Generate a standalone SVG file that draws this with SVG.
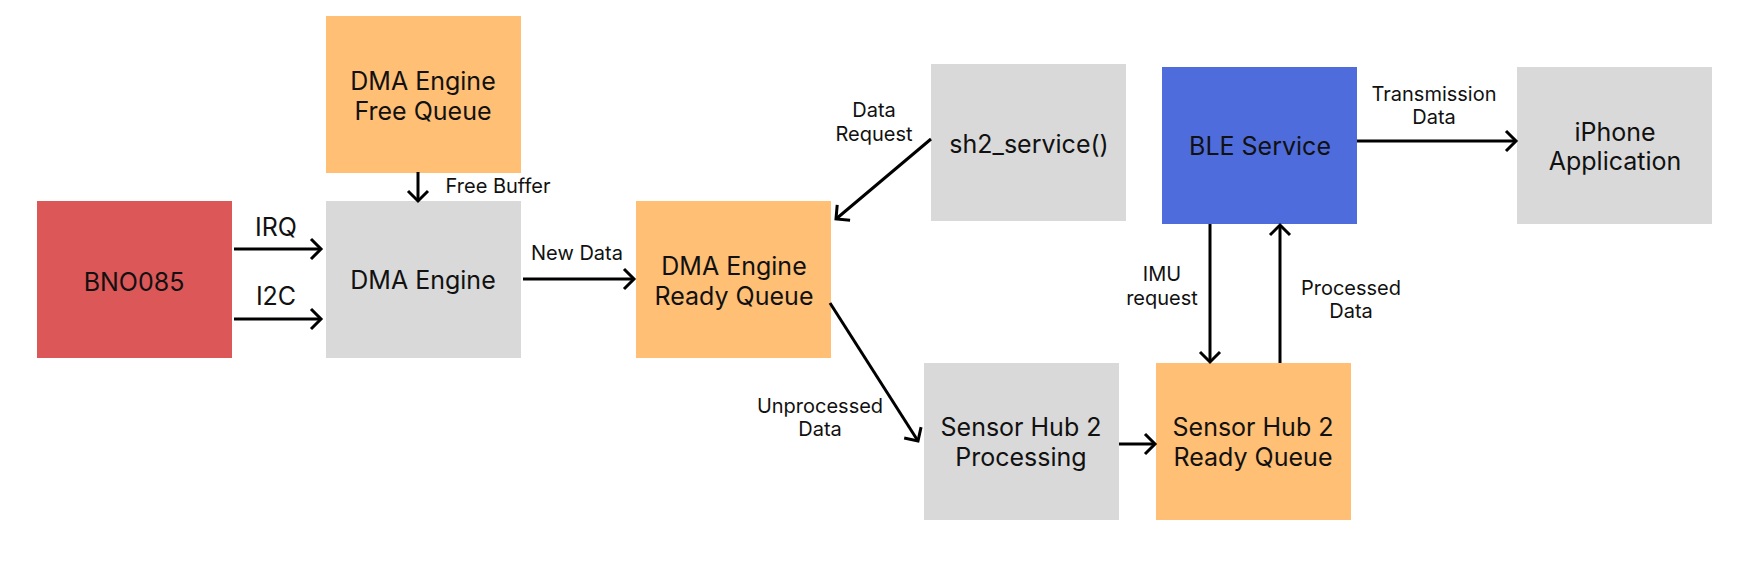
<svg xmlns="http://www.w3.org/2000/svg" width="1743" height="586" viewBox="0 0 1743 586">
<style>
.n{font-family:Inter,"Liberation Sans",sans-serif;font-size:25px;fill:#111;text-anchor:middle}
.l{font-family:Inter,"Liberation Sans",sans-serif;font-size:20px;fill:#111;text-anchor:middle}
.c{stroke:#000;stroke-width:3;fill:none}
.red{fill:#DC5757}.org{fill:#FFBF75}.gry{fill:#D9D9D9}.blu{fill:#4E6CDB}
</style>
<defs>
<marker id="ah" markerUnits="userSpaceOnUse" viewBox="-12 -12 14 24" refX="0" refY="0" markerWidth="14" markerHeight="24" orient="auto" overflow="visible">
<path d="M-10,-10 L0,0 L-10,10" fill="none" stroke="#000" stroke-width="3"/>
</marker>
</defs>
<rect width="1743" height="586" fill="#fff"/>
<g id="bno085"><rect class="red" x="37" y="201" width="195" height="157"/><text class="n" x="134" y="291">BNO085</text></g>
<g id="dma-free-queue"><rect class="org" x="326" y="16" width="195" height="157"/><text class="n" x="423" y="90">DMA Engine</text><text class="n" x="423" y="120">Free Queue</text></g>
<g id="dma-engine"><rect class="gry" x="326" y="201" width="195" height="157"/><text class="n" x="423" y="289">DMA Engine</text></g>
<g id="dma-ready-queue"><rect class="org" x="636" y="201" width="195" height="157"/><text class="n" x="734" y="275">DMA Engine</text><text class="n" x="734" y="305">Ready Queue</text></g>
<g id="sh2-service"><rect class="gry" x="931" y="64" width="195" height="157"/><text class="n" x="1029" y="153">sh2_service()</text></g>
<g id="ble-service"><rect class="blu" x="1162" y="67" width="195" height="157"/><text class="n" x="1260" y="155">BLE Service</text></g>
<g id="iphone-app"><rect class="gry" x="1517" y="67" width="195" height="157"/><text class="n" x="1615" y="141">iPhone</text><text class="n" x="1615" y="170">Application</text></g>
<g id="sh2-processing"><rect class="gry" x="924" y="363" width="195" height="157"/><text class="n" x="1021" y="436">Sensor Hub 2</text><text class="n" x="1021" y="466">Processing</text></g>
<g id="sh2-ready-queue"><rect class="org" x="1156" y="363" width="195" height="157"/><text class="n" x="1253" y="436">Sensor Hub 2</text><text class="n" x="1253" y="466">Ready Queue</text></g>
<g id="connectors">
<line class="c" x1="418" y1="172" x2="418" y2="201" marker-end="url(#ah)"/>
<text class="l" x="498" y="193">Free Buffer</text>
<line class="c" x1="234" y1="249" x2="321" y2="249" marker-end="url(#ah)"/>
<text class="n" x="276" y="236">IRQ</text>
<line class="c" x1="234" y1="319" x2="321" y2="319" marker-end="url(#ah)"/>
<text class="n" x="276" y="305">I2C</text>
<line class="c" x1="523" y1="279" x2="634" y2="279" marker-end="url(#ah)"/>
<text class="l" x="577" y="260">New Data</text>
<line class="c" x1="931" y1="139" x2="836" y2="219" marker-end="url(#ah)"/>
<text class="l" x="874" y="117">Data</text><text class="l" x="874" y="141">Request</text>
<line class="c" x1="830" y1="303" x2="918" y2="441" marker-end="url(#ah)"/>
<text class="l" x="820" y="413">Unprocessed</text><text class="l" x="820" y="436">Data</text>
<line class="c" x1="1119" y1="444" x2="1155" y2="444" marker-end="url(#ah)"/>
<line class="c" x1="1357" y1="141" x2="1516" y2="141" marker-end="url(#ah)"/>
<text class="l" x="1434" y="101">Transmission</text><text class="l" x="1434" y="124">Data</text>
<line class="c" x1="1210" y1="224" x2="1210" y2="362" marker-end="url(#ah)"/>
<text class="l" x="1162" y="281">IMU</text><text class="l" x="1162" y="305">request</text>
<line class="c" x1="1280" y1="363" x2="1280" y2="225" marker-end="url(#ah)"/>
<text class="l" x="1351" y="295">Processed</text><text class="l" x="1351" y="318">Data</text>
</g>
</svg>
